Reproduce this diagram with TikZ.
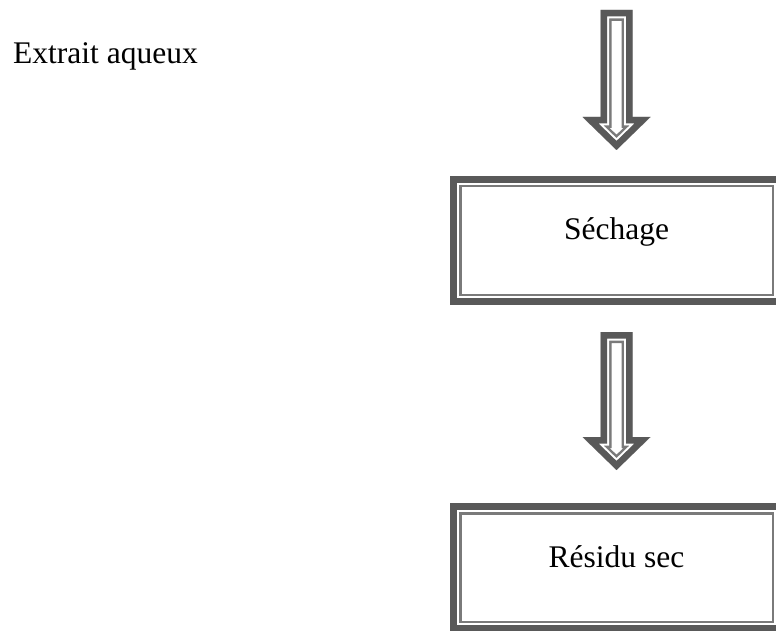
\documentclass[tikz,border=0pt]{standalone}
\usepackage{fontspec}
\setmainfont{Liberation Serif}
\usetikzlibrary{calc}

\definecolor{framegray}{HTML}{595959}
\definecolor{linegray}{HTML}{7A7A7A}

% outline of a downward block arrow, from shaft top #1 to tip #2
\newcommand{\arrowoutline}[2]{($(#1)+(-16,0)$) -- ($(#1)+(16,0)$) -- ($(#2)+(16,-33)$) -- ($(#2)+(34,-33)$) -- (#2) -- ($(#2)+(-34,-33)$) -- ($(#2)+(-16,-33)$) -- cycle}

% block arrow with thick-thin border
\newcommand{\blockarrow}[2]{%
  \begin{scope}
    \clip \arrowoutline{#1}{#2};
    \fill[white] \arrowoutline{#1}{#2};
    \draw[linegray, line width=22pt, line join=miter] \arrowoutline{#1}{#2};
    \draw[white, line width=17pt, line join=miter] \arrowoutline{#1}{#2};
    \draw[framegray, line width=13pt, line join=miter] \arrowoutline{#1}{#2};
  \end{scope}}

\tikzset{
  bigtext/.style={font=\fontsize{31.5}{38}\selectfont},
  procbox/.style={rectangle, draw=framegray, line width=7pt, fill=white,
    minimum width=326pt, minimum height=122pt, outer sep=0pt, inner sep=0pt,
    text height=10pt, text depth=11pt, bigtext},
  innerframe/.style={draw=linegray, line width=2.5pt}
}

\begin{document}
\begin{tikzpicture}[x=1pt, y=-1pt]
    \useasboundingbox (0,0) rectangle (776,631);
    \clip (0,0) rectangle (776,631);

    % Input
    \node[bigtext, anchor=base west, inner sep=0pt] (extrait) at (13,64) {Extrait aqueux};

    % Steps
    \node[procbox] (sechage) at (616.5,240.5) {Séchage};
    \node[procbox] (residu) at (616.5,567.5) {Résidu sec};

    % Inner thin frames
    \foreach \b in {sechage,residu}
        \draw[innerframe] ($(\b.north west)+(6.75,6.75)$) rectangle ($(\b.south east)+(-6.75,-6.75)$);

    % Arrows
    \coordinate (top) at (616.5,10);
    \coordinate (tip1) at ($(sechage.north)+(0,-29.5)$);
    \coordinate (start2) at ($(sechage.south)+(0,30.5)$);
    \coordinate (tip2) at ($(residu.north)+(0,-36.5)$);
    \blockarrow{top}{tip1}
    \blockarrow{start2}{tip2}
\end{tikzpicture}
\end{document}
